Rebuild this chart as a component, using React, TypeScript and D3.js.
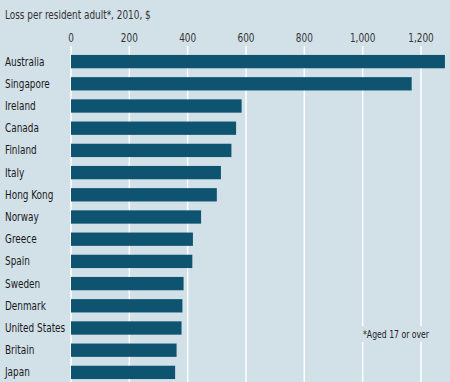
import React from "react";
import * as d3 from "d3";

const countries = ["Australia","Singapore","Ireland","Canada","Finland","Italy","Hong Kong","Norway","Greece","Spain","Sweden","Denmark","United States","Britain","Japan"];
const losses = [1282,1168,585,566,550,514,500,446,418,416,386,382,379,362,357];
const ticks = [0,200,400,600,800,1000,1200];

const W = 450, H = 382;
const FONT = "'DejaVu Sans Condensed', 'Roboto Condensed', Roboto, sans-serif";
const SX = 0.86;

function T({ x, y, size, anchor, fill, children }: any) {
  return (
    <text transform={`translate(${x},${y}) scale(${SX},1)`} fontSize={size} textAnchor={anchor || "start"} fill={fill || "#222"}>{children}</text>
  );
}

export default function App() {
  const x = d3.scaleLinear().domain([0, 1200]).range([71, 421]);
  const y = d3.scaleBand().domain(countries).range([50.5, 383.5]).paddingInner(0.4).paddingOuter(0.2);
  const fmt = d3.format(",");
  return (
    <svg width={W} height={H} style={{ position: "absolute", left: 0, top: 0, display: "block" }} fontFamily={FONT}>
      <rect x={0} y={0} width={W} height={H} fill="#d2e0e8" />
      <T x={5} y={19} size={11.5} fill="#333">Loss per resident adult*, 2010, $</T>
      {ticks.map(t => (
        <g key={t}>
          <line x1={x(t)} x2={x(t)} y1={46} y2={H} stroke="#fff" strokeWidth={1.5} />
          <T x={x(t)} y={42} size={11.5} fill="#333" anchor="middle">{fmt(t)}</T>
        </g>
      ))}
      {countries.map((c, i) => (
        <g key={c}>
          <rect x={x(0)} y={y(c)!} width={x(losses[i]) - x(0)} height={y.bandwidth()} fill="#0e5470" />
          <T x={5} y={y(c)! + y.bandwidth() / 2 + 4} size={11.5} fill="#1a1a1a">{c}</T>
        </g>
      ))}
      <rect x={360} y={326} width={70} height={16} fill="#d2e0e8" />
      <T x={363} y={338} size={10} fill="#222">*Aged 17 or over</T>
    </svg>
  );
}
